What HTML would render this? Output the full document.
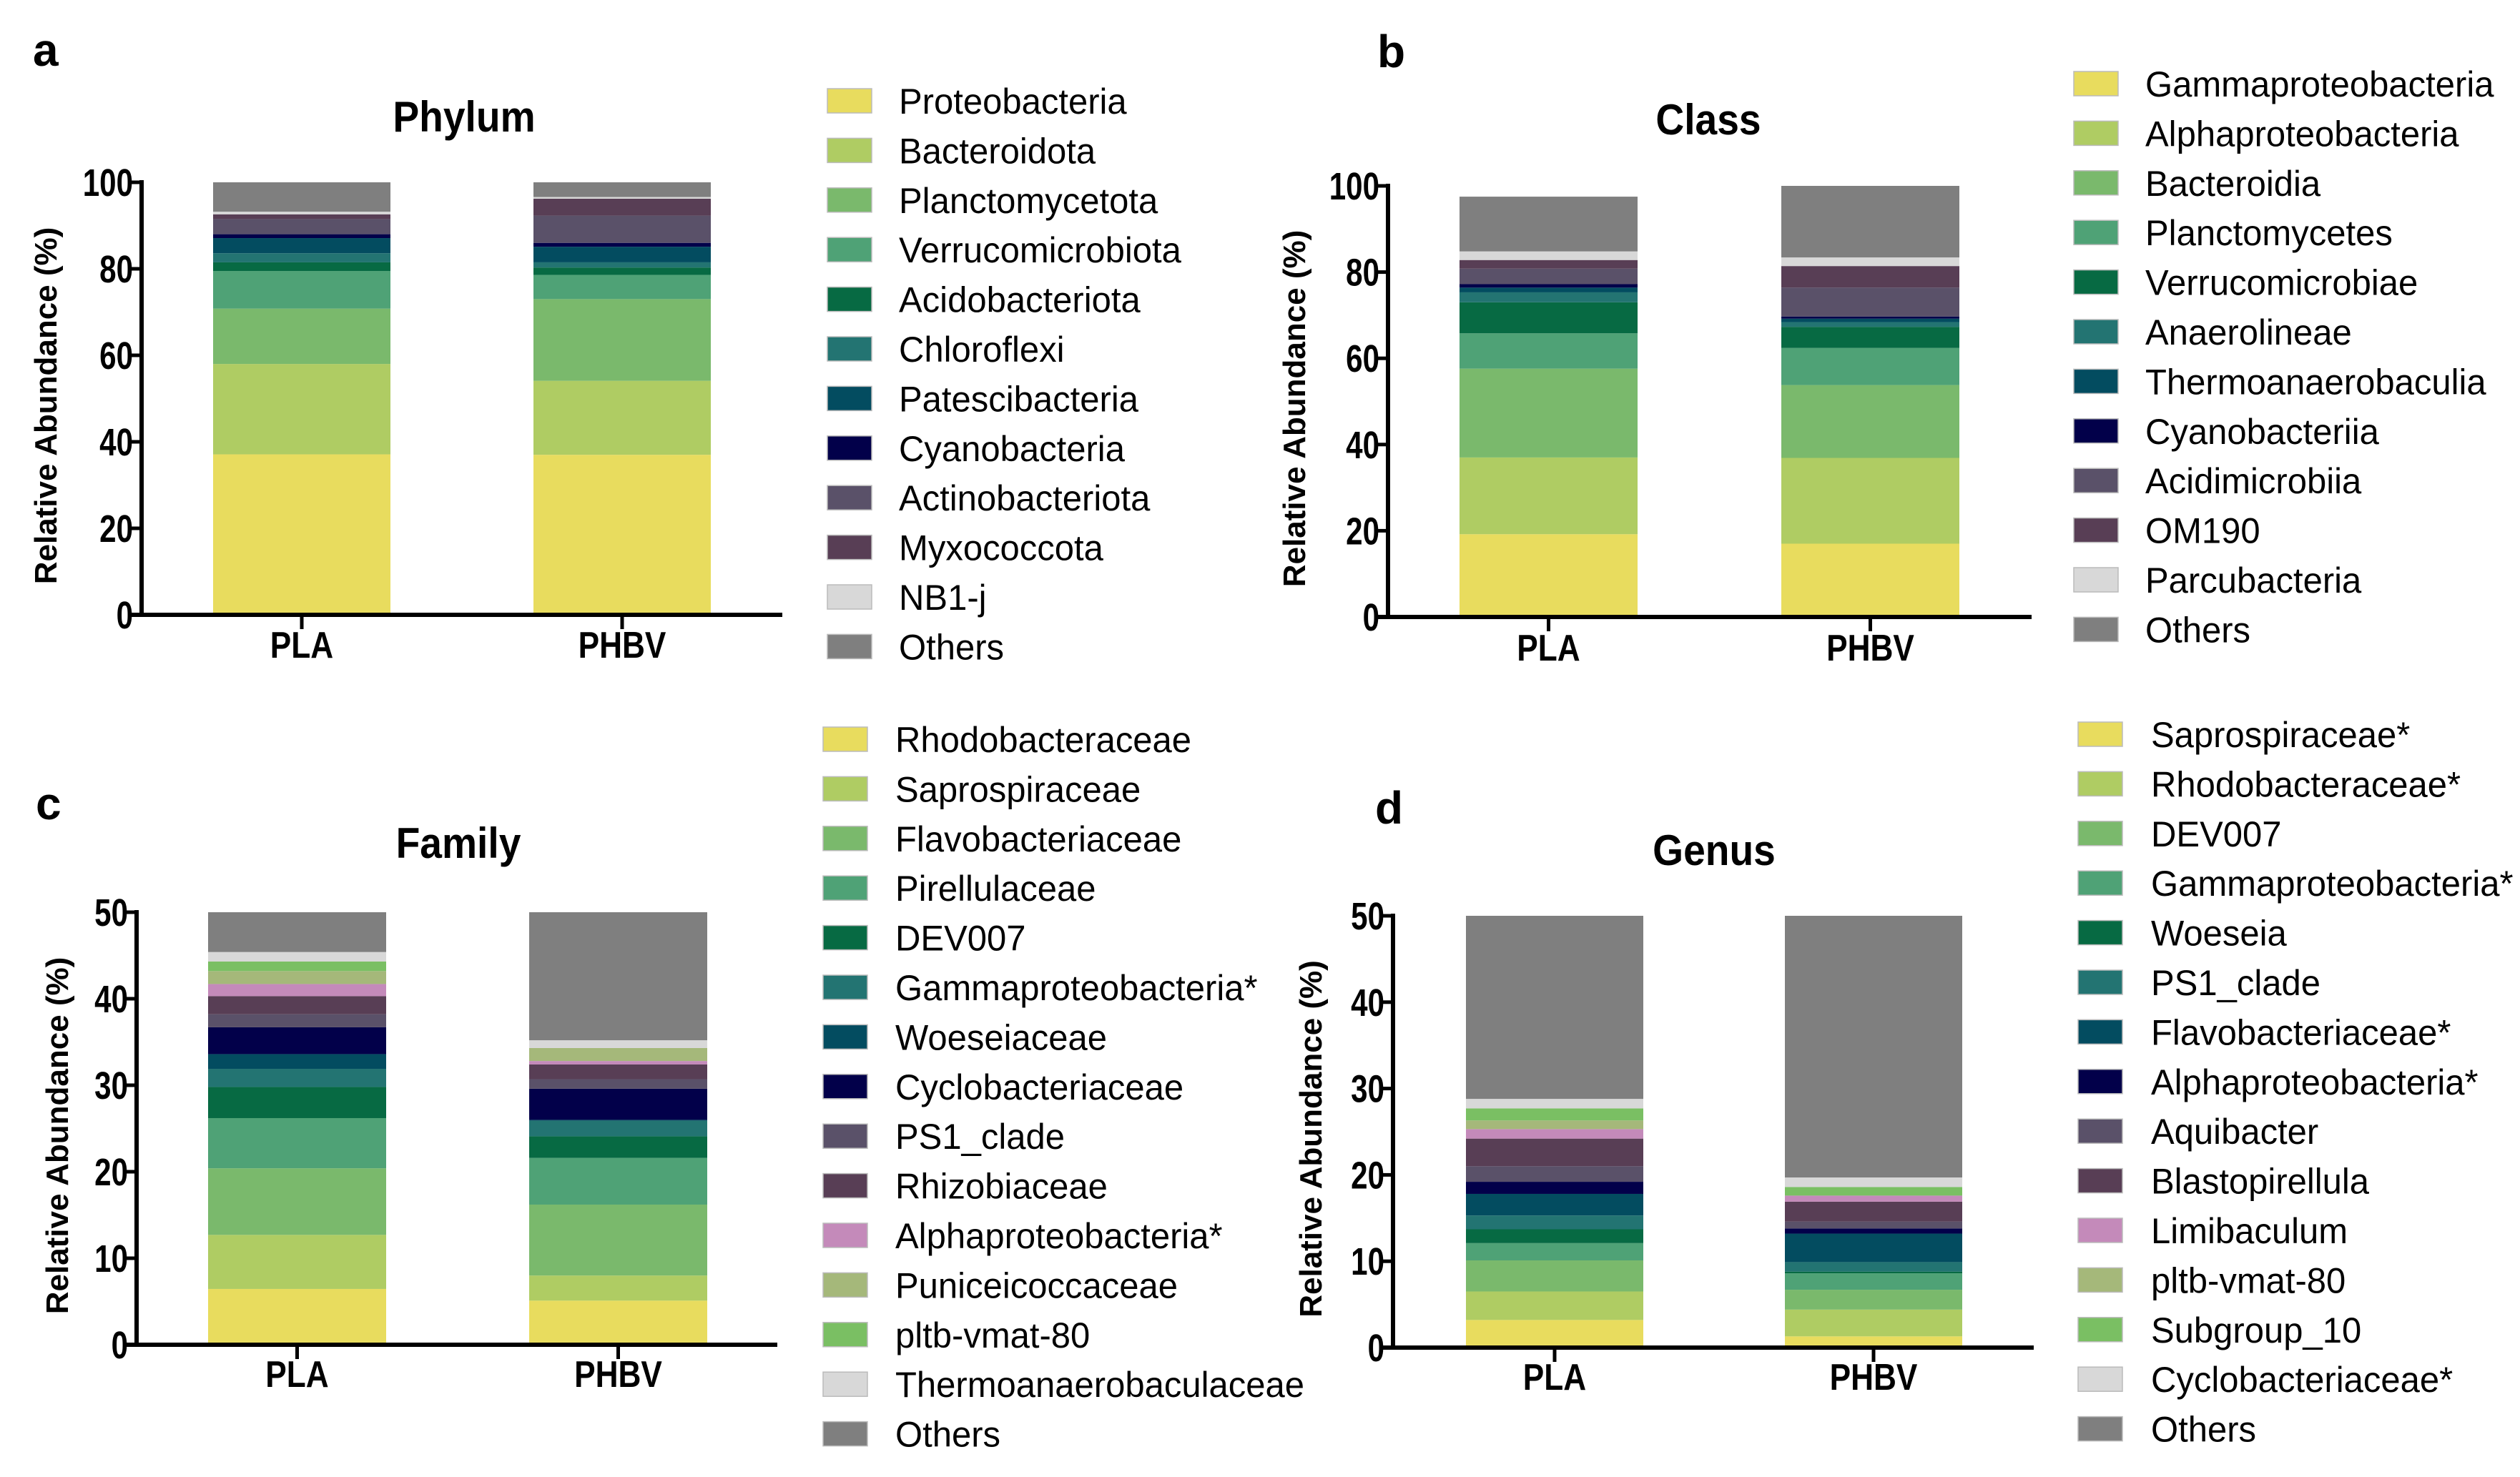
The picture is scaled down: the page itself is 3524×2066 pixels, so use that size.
<!DOCTYPE html>
<html><head><meta charset="utf-8"><style>
html,body{margin:0;padding:0;background:#fff;}
svg{display:block;}
</style></head><body>
<svg id="fig" width="3524" height="2066" viewBox="0 0 3524 2066" xmlns="http://www.w3.org/2000/svg"></svg>
<script>
const categories = ["PLA", "PHBV"];

const phylumNames = ["Proteobacteria","Bacteroidota","Planctomycetota","Verrucomicrobiota","Acidobacteriota","Chloroflexi","Patescibacteria","Cyanobacteria","Actinobacteriota","Myxococcota","NB1-j","Others"];
const phylumPLA  = [37.1,20.9,12.8,8.7,2.0,2.1,3.5,0.9,3.5,1.1,0.6,6.8];
const phylumPHBV = [37.0,17.1,18.9,5.6,1.7,1.2,3.6,0.9,6.3,3.9,0.4,3.4];

const classNames = ["Gammaproteobacteria","Alphaproteobacteria","Bacteroidia","Planctomycetes","Verrucomicrobiae","Anaerolineae","Thermoanaerobaculia","Cyanobacteriia","Acidimicrobiia","OM190","Parcubacteria","Others"];
const classPLA  = [19.2,17.8,20.6,8.2,7.2,2.3,1.1,0.8,3.6,2.0,2.0,12.7];
const classPHBV = [17.0,19.9,16.9,8.6,4.9,1.1,0.8,0.5,6.7,5.0,2.0,16.6];

const familyNames = ["Rhodobacteraceae","Saprospiraceae","Flavobacteriaceae","Pirellulaceae","DEV007","Gammaproteobacteria*","Woeseiaceae","Cyclobacteriaceae","PS1_clade","Rhizobiaceae","Alphaproteobacteria*","Puniceicoccaceae","pltb-vmat-80","Thermoanaerobaculaceae","Others"];
const familyPLA  = [6.45,6.25,7.7,5.8,3.6,2.1,1.7,3.1,1.5,2.1,1.4,1.5,1.1,1.1,4.6];
const familyPHBV = [5.1,2.9,8.2,5.4,2.5,1.8,0.1,3.6,1.1,1.7,0.4,1.5,0.0,0.9,14.8];

const genusNames = ["Saprospiraceae*","Rhodobacteraceae*","DEV007","Gammaproteobacteria*","Woeseia","PS1_clade","Flavobacteriaceae*","Alphaproteobacteria*","Aquibacter","Blastopirellula","Limibaculum","pltb-vmat-80","Subgroup_10","Cyclobacteriaceae*","Others"];
const genusPLA  = [3.2,3.3,3.6,2.0,1.6,1.6,2.5,1.4,1.8,3.2,1.1,1.0,1.4,1.1,21.2];
const genusPHBV = [1.3,3.1,2.3,1.9,0.2,1.1,3.3,0.6,0.8,2.3,0.7,0.0,1.0,1.1,30.3];

const ticks100 = [0,20,40,60,80,100];
const ticks50 = [0,10,20,30,40,50];

const col12 = ["#E8DC5E","#AFCC63","#7AB96C","#4FA276","#076A43","#237472","#034C60","#02004A","#5A5169","#583E55","#D8D8D8","#7F7F7F"];
const col15 = ["#E8DC5E","#AFCC63","#7AB96C","#4FA276","#076A43","#237472","#034C60","#02004A","#5A5169","#583E55","#C48ABA","#A5B87A","#7ABF63","#D8D8D8","#7F7F7F"];

const NS = "http://www.w3.org/2000/svg";
const svg = document.getElementById("fig");
function mk(tag, attrs, parent) {
  const e = document.createElementNS(NS, tag);
  for (const k in attrs) e.setAttribute(k, attrs[k]);
  (parent || svg).appendChild(e);
  return e;
}
function narrowText(parent, x, y, str, size, bold, anchor, sx) {
  const g = mk("g", {transform: "translate(" + x + "," + y + ") scale(" + sx + ",1)"}, parent);
  const t = mk("text", {x: 0, y: 0, "font-family": "Liberation Sans, Arial, sans-serif", "font-size": size, "font-weight": bold ? "bold" : "normal", "text-anchor": anchor, fill: "#000"}, g);
  t.textContent = str;
  return t;
}

const panels = [
  {id:"phylum", letter:"a", title:"Phylum", names:phylumNames, series:[phylumPLA, phylumPHBV], colors:col12, ticks:ticks100, max:100,
   ax:198, y0:860, yTop:255, xEnd:1094, bar0:298, pitch:448, bw:248, titleX:649, titleY:184, letX:46, letY:92, ytX:63, xlY:920,
   swX:1157, txX:1257, row0:141},
  {id:"class", letter:"b", title:"Class", names:classNames, series:[classPLA, classPHBV], colors:col12, ticks:ticks100, max:100,
   ax:1941, y0:863, yTop:260, xEnd:2841, bar0:2041, pitch:450, bw:249, titleX:2389, titleY:188, letX:1926, letY:94, ytX:1809, xlY:924,
   swX:2900, txX:3000, row0:117},
  {id:"family", letter:"c", title:"Family", names:familyNames, series:[familyPLA, familyPHBV], colors:col15, ticks:ticks50, max:50,
   ax:191, y0:1881, yTop:1276, xEnd:1087, bar0:291, pitch:449, bw:249, titleX:641, titleY:1200, letX:50, letY:1146, ytX:79, xlY:1940,
   swX:1151, txX:1252, row0:1034},
  {id:"genus", letter:"d", title:"Genus", names:genusNames, series:[genusPLA, genusPHBV], colors:col15, ticks:ticks50, max:50,
   ax:1948, y0:1885, yTop:1281, xEnd:2844, bar0:2050, pitch:446, bw:248, titleX:2397, titleY:1210, letX:1923, letY:1152, ytX:1832, xlY:1944,
   swX:2906, txX:3008, row0:1027}
];

panels.forEach(p => {
  const g = mk("g", {});
  
  
  const yS = v => p.y0 - (v / p.max) * (p.y0 - p.yTop);
  const xS = i => p.bar0 + i * p.pitch;

  const lt = mk("text", {x: p.letX, y: p.letY, "font-family": "Liberation Sans, Arial, sans-serif", "font-size": 64, "font-weight": "bold", fill: "#000"}, g);
  lt.textContent = p.letter;
  
  

  const tt = narrowText(g, p.titleX, p.titleY, p.title, 60, true, "middle", 0.92);
  
  

  p.series.forEach((vals, i) => {
    let cum = 0;
    vals.forEach((v, j) => {
      if (v <= 0) { return; }
      const r = mk("rect", {x: xS(i), y: yS(cum + v), width: p.bw, height: yS(cum) - yS(cum + v), fill: p.colors[j]}, g);
      
      
      cum += v;
    });
  });

  const ya = mk("line", {x1: p.ax, y1: yS(p.max) - 3, x2: p.ax, y2: p.y0 + 3, stroke: "#000", "stroke-width": 6}, g);
  
  
  const xa = mk("line", {x1: p.ax - 16, y1: p.y0, x2: p.xEnd, y2: p.y0, stroke: "#000", "stroke-width": 6}, g);
  
  

  p.ticks.forEach(t => {
    const y = yS(t);
    mk("line", {x1: p.ax - 16, y1: y, x2: p.ax, y2: y, stroke: "#000", "stroke-width": 5}, g);
    const lab = narrowText(g, p.ax - 12, y + 19, String(t), 54, true, "end", 0.78);
    
    
  });

  categories.forEach((c, i) => {
    const cx = xS(i) + p.bw / 2;
    mk("line", {x1: cx, y1: p.y0, x2: cx, y2: p.y0 + 20, stroke: "#000", "stroke-width": 5}, g);
    const lab = narrowText(g, cx, p.xlY, c, 52, true, "middle", 0.85);
    
    
  });

  const ymid = (p.y0 + p.yTop) / 2 + 10;
  const yt = mk("text", {x: 0, y: 0, transform: "translate(" + (p.ytX + 16) + "," + ymid + ") rotate(-90)", "font-family": "Liberation Sans, Arial, sans-serif", "font-size": 44, "font-weight": "bold", "text-anchor": "middle", fill: "#000"}, g);
  yt.textContent = "Relative Abundance (%)";
  
  

  p.names.forEach((n, j) => {
    const cy = p.row0 + j * 69.4;
    const sw = mk("rect", {x: p.swX, y: cy - 17, width: 62, height: 34, fill: p.colors[j], stroke: "#bbb", "stroke-width": 1.5}, g);
    
    
    const lab = narrowText(g, p.txX, cy + 18, n, 50, false, "start", 0.98);
    
    
  });
});
</script>
</body></html>
